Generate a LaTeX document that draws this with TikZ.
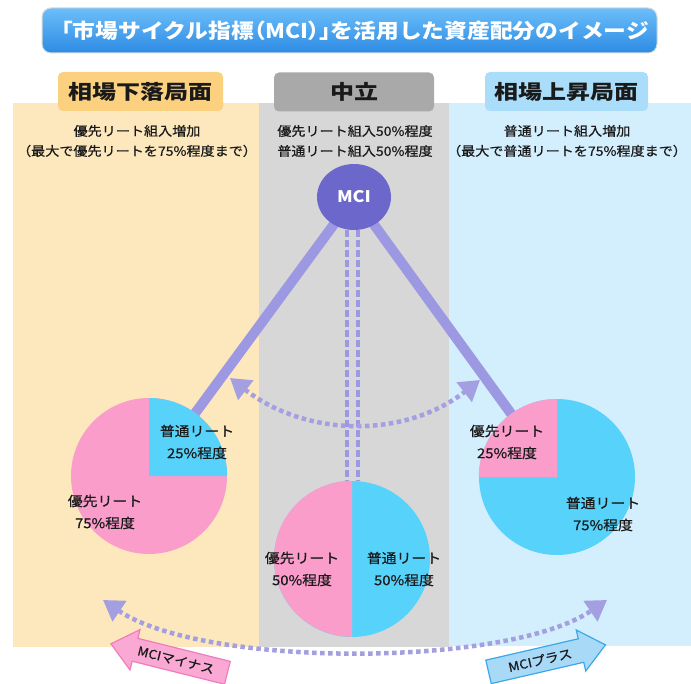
\documentclass[tikz,border=0pt]{standalone}
\usepackage{fontspec}
\setmainfont{Noto Sans CJK JP}
\newfontfamily\jpbody{Noto Sans CJK JP}[FakeStretch=1.12]
\newfontfamily\jplabel{Noto Sans CJK JP}[FakeStretch=1.1, FakeBold=0.6]
\newfontfamily\jphead{Noto Sans CJK JP}[FakeStretch=1.2]
\usetikzlibrary{shapes.geometric,shapes.arrows,arrows.meta,calc}
\pgfdeclarelayer{back}
\pgfdeclarelayer{mid}
\pgfsetlayers{back,mid,main}

\definecolor{panelO}{HTML}{FCE8BC}
\definecolor{panelG}{HTML}{D7D7D7}
\definecolor{panelB}{HTML}{D3EEFC}
\definecolor{headO}{HTML}{FBD07E}
\definecolor{headG}{HTML}{A9A9A9}
\definecolor{headB}{HTML}{A9DDF9}
\definecolor{pinkc}{HTML}{FA9DCB}
\definecolor{cyanc}{HTML}{57D3FB}
\definecolor{mcic}{HTML}{6B67CB}
\definecolor{linec}{HTML}{9C98E2}
\definecolor{dotc}{HTML}{A39FE0}
\definecolor{titleTop}{HTML}{6CBEF9}
\definecolor{titleBot}{HTML}{2D8BE4}
\definecolor{txt}{HTML}{1A1A1A}
\definecolor{minusfill}{HTML}{F9A9D4}
\definecolor{minusdraw}{HTML}{F07CBC}
\definecolor{plusfill}{HTML}{A8DAF8}
\definecolor{plusdraw}{HTML}{3AA8EA}

\tikzset{
  titlebar/.style={rounded corners=9pt, minimum width=615pt, minimum height=45pt,
    top color=titleTop, bottom color=titleBot, draw=black!15, line width=1pt,
    text=white, inner sep=0pt, font=\jpbody\bfseries\fontsize{20.3}{22}\selectfont},
  headbox/.style={rounded corners=5pt, inner sep=0pt, minimum height=39pt,
    text=txt, font=\jphead\bfseries\fontsize{20}{24}\selectfont},
  bodytext/.style={align=center, inner sep=0pt, text=txt,
    font=\jplabel\fontsize{12.8}{20}\selectfont},
  pielabel/.style={align=center, inner sep=0pt, text=txt,
    font=\jplabel\fontsize{13.5}{22}\selectfont},
  piebase/.style={circle, minimum size=156pt, inner sep=0pt},
  thickline/.style={draw=linec, line width=10pt},
  dashv/.style={draw=linec, line width=3.5pt, dash pattern=on 7pt off 3pt},
  dotarc/.style={draw=dotc, line width=4.5pt, dash pattern=on 4.5pt off 3.5pt},
  tipboth/.style={{Triangle[length=20pt,width=24pt]}-{Triangle[length=20pt,width=24pt]}},
  bigarrow/.style={single arrow, single arrow head extend=9pt, single arrow tip angle=80,
    minimum height=120pt, inner xsep=3pt, inner ysep=6pt, line width=1.2pt, text=txt,
    font=\jplabel\fontsize{12.5}{14}\selectfont},
  minusarrow/.style={bigarrow, fill=minusfill, draw=minusdraw, shape border rotate=180},
  plusarrow/.style={bigarrow, fill=plusfill, draw=plusdraw}
}

\begin{document}
\begin{tikzpicture}[x=1pt, y=-1pt]
\useasboundingbox (0,0) rectangle (691,684);

% panels
\begin{pgfonlayer}{back}
\fill[white] (0,0) rectangle (691,684);
\fill[panelO] (13,103) rectangle (259,647);
\fill[panelG] (259,103) rectangle (449,647);
\fill[panelB] (449,103) rectangle (691,646);
\end{pgfonlayer}

% title
\node[titlebar] (title) at (349.5,30.5) {「市場サイクル指標{\addfontfeature{RawFeature=+palt}（MCI）」}を活用した資産配分のイメージ};

% headers
\node[headbox, fill=headO, minimum width=165pt] (hL) at (140.5,91.5) {相場下落局面};
\node[headbox, fill=headG, minimum width=160pt] (hC) at (354,92) {中立};
\node[headbox, fill=headB, minimum width=163pt] (hR) at (566.5,91.5) {相場上昇局面};

% subtitles
\node[bodytext] (sL) at (137,141) {優先リート組入増加\\（最大で優先リートを75\%程度まで）};
\node[bodytext] (sC) at (355,141) {優先リート組入50\%程度\\普通リート組入50\%程度};
\node[bodytext] (sR) at (567,141) {普通リート組入増加\\（最大で普通リートを75\%程度まで）};

% pies
\node[piebase, fill=pinkc] (pieL) at (149,476) {};
\fill[cyanc] (pieL.center) -- (pieL.east) arc[start angle=0, end angle=-90, radius=78] -- cycle;
\node[piebase, fill=cyanc] (pieR) at (557,477) {};
\fill[pinkc] (pieR.center) -- (pieR.west) arc[start angle=180, end angle=270, radius=78] -- cycle;
\node[piebase, fill=cyanc] (pieC) at (352,559) {};
\fill[pinkc] (pieC.center) -- (pieC.north) arc[start angle=-90, end angle=-270, radius=78] -- cycle;

% MCI
\node[ellipse, fill=mcic, minimum width=74pt, minimum height=66pt, inner sep=0pt,
  text=white, font=\jpbody\bfseries\fontsize{16}{20}\selectfont] (mci) at (354,197) {MCI};

% connectors behind
\begin{pgfonlayer}{mid}
\draw[thickline] (mci.center) -- (pieL.center);
\draw[thickline] (mci.center) -- (pieR.center);
\draw[dashv] ($(mci.south)+(-7,0)$) -- ($(pieC.north)+(-5,0)$);
\draw[dashv] ($(mci.south)+(4,0)$) -- ($(pieC.north)+(6,0)$);
\coordinate (uL) at (230,378);
\coordinate (uR) at (480,380);
\draw[dotarc, tipboth] (uL) .. controls (306,437) and (404,439) .. (uR);
\coordinate (lL) at (103,600);
\coordinate (lR) at (607,600);
\draw[dotarc, tipboth] (lL) .. controls (203,668) and (507,668) .. (lR);
\end{pgfonlayer}

% pie labels
\node[pielabel] (tL1) at (197,442) {普通リート\\25\%程度};
\node[pielabel] (tL2) at (105,512) {優先リート\\75\%程度};
\node[pielabel] (tR1) at (507,442) {優先リート\\25\%程度};
\node[pielabel] (tR2) at (603,514) {普通リート\\75\%程度};
\node[pielabel] (tC1) at (302,569) {優先リート\\50\%程度};
\node[pielabel] (tC2) at (404,569) {普通リート\\50\%程度};

% big arrows
\node[minusarrow, rotate=-14] (minus) at (176,660) {MCIマイナス};
\node[plusarrow, rotate=13] (plus) at (540,660) {MCIプラス};
\end{tikzpicture}
\end{document}
